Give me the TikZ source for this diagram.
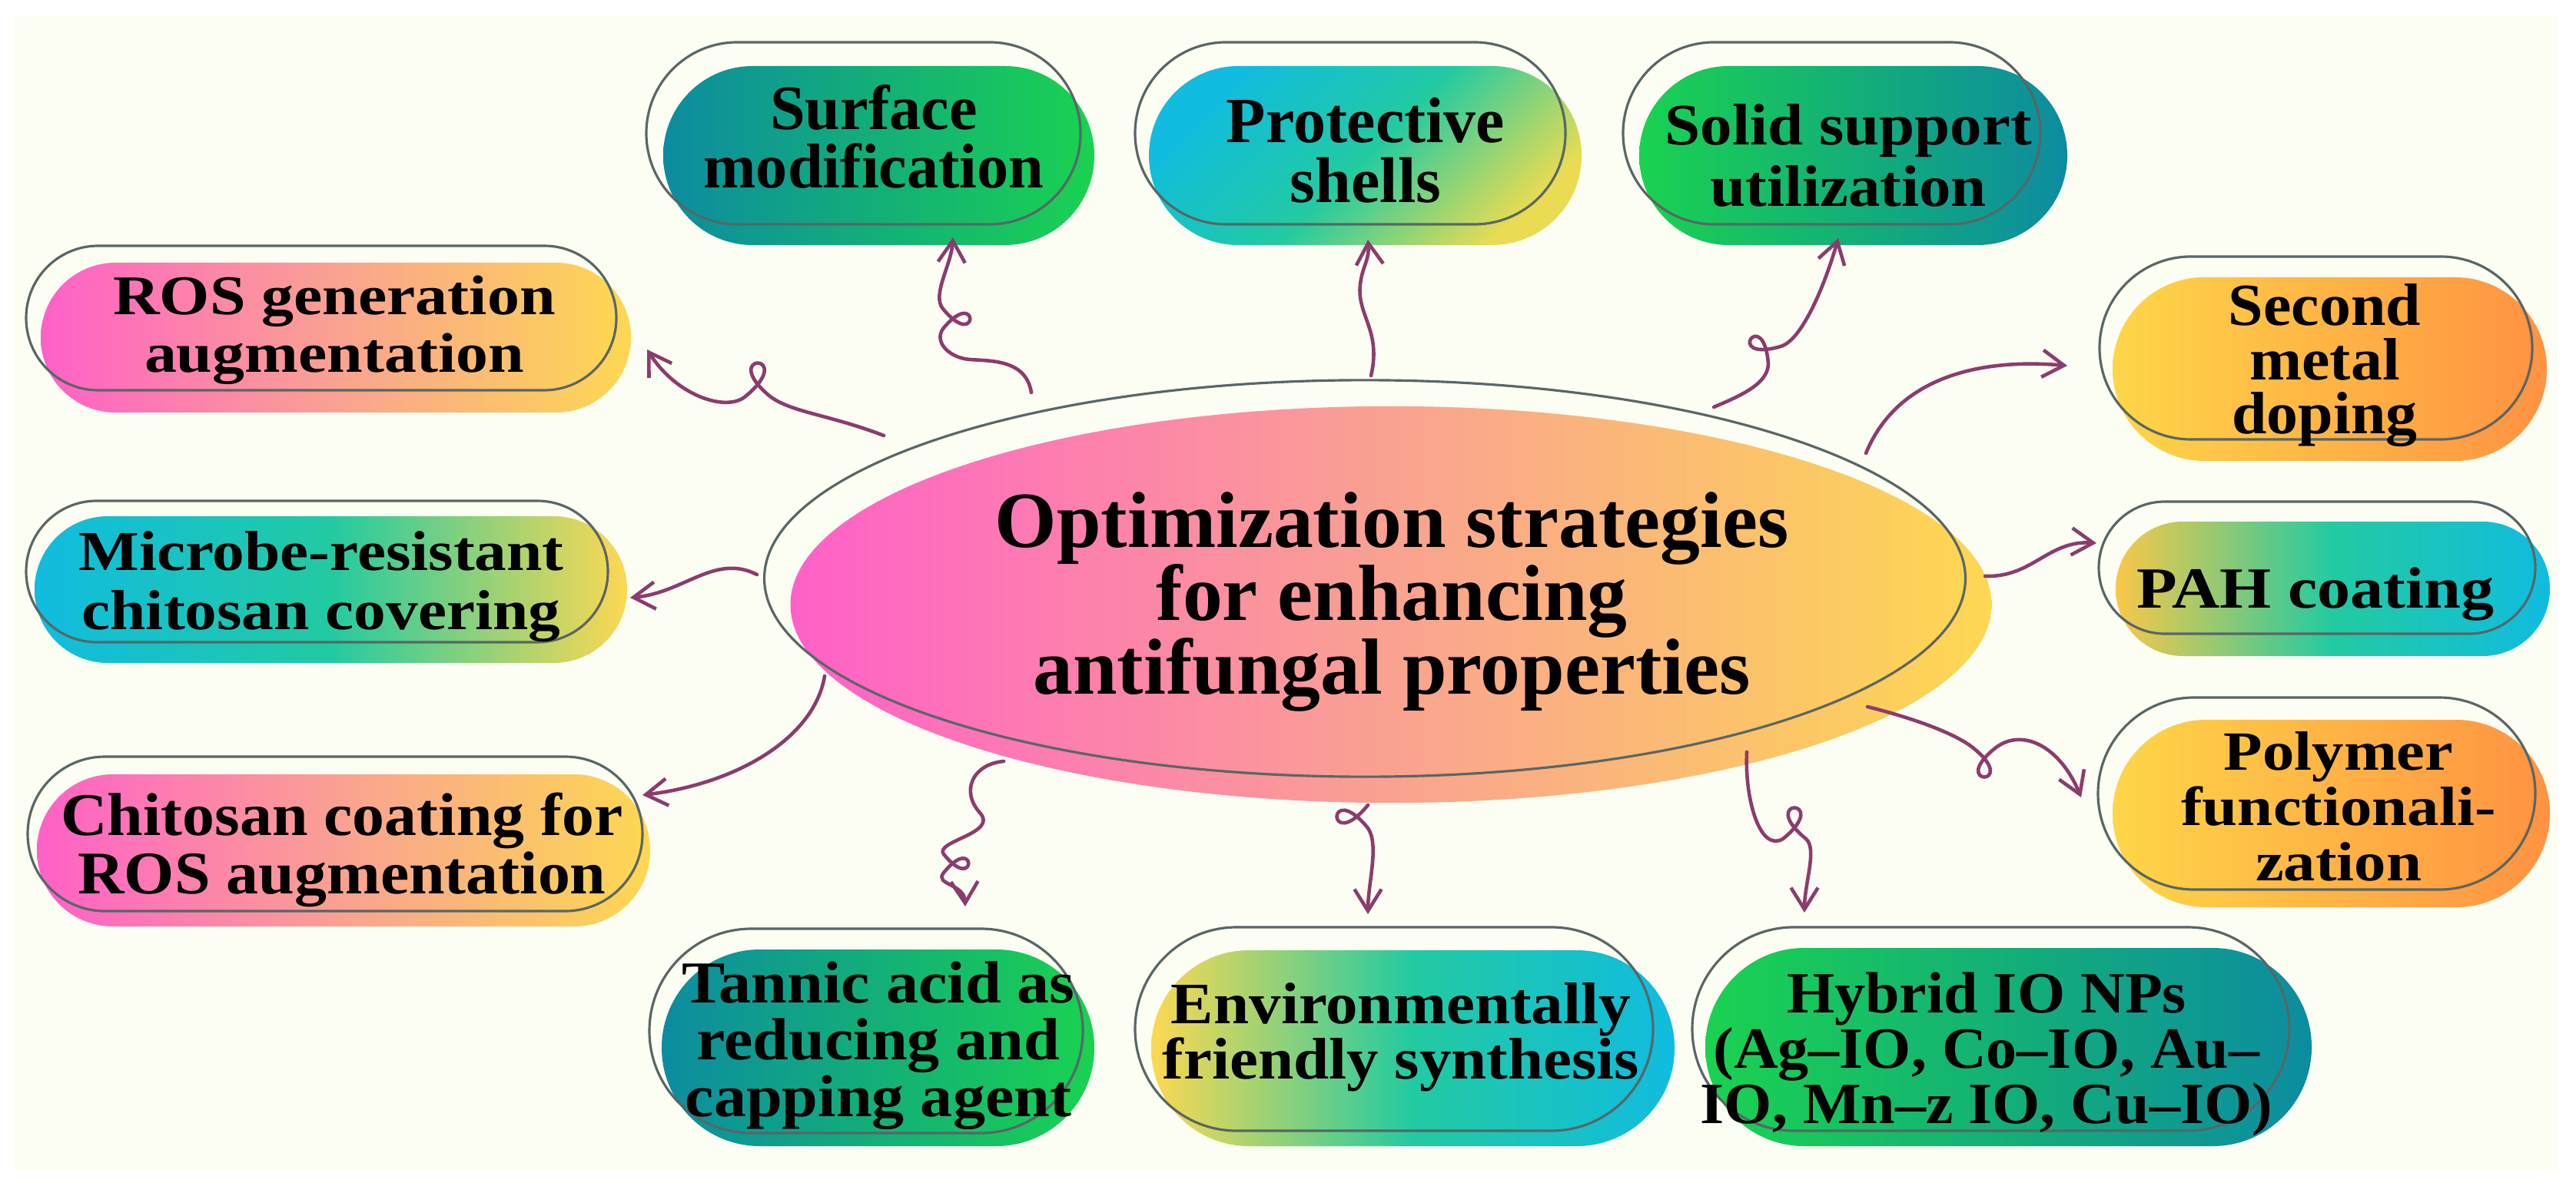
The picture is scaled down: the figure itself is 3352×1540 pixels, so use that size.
\documentclass[tikz,border=0pt]{standalone}
\usepackage{fontspec}
\setmainfont{Liberation Serif}
\usepackage{graphicx}
\usetikzlibrary{arrows.meta}

\definecolor{bgc}{RGB}{252,253,243}
\definecolor{olc}{RGB}{88,102,102}
\definecolor{arrc}{RGB}{140,60,108}
\definecolor{pinkc}{RGB}{255,96,200}
\definecolor{peachc}{RGB}{250,162,145}
\definecolor{yelc}{RGB}{253,216,82}
\definecolor{yel2c}{RGB}{254,214,72}
\definecolor{orangec}{RGB}{255,146,66}
\definecolor{tealc}{RGB}{12,140,160}
\definecolor{greenc}{RGB}{26,210,80}
\definecolor{cyanc}{RGB}{16,188,224}
\definecolor{tgc}{RGB}{34,202,162}
\definecolor{pahl}{RGB}{249,200,72}
\definecolor{protyel}{RGB}{234,220,82}

\newsavebox\lblbox
\newlength\lblw
\newcommand\lbl[4][1]{%
  \sbox\lblbox{\fontsize{10pt}{12pt}\selectfont\bfseries\vtop{\lineskiplimit=-\maxdimen\baselineskip=12pt\halign{\hfil##\hfil\cr#4\crcr}}}%
  \setlength\lblw{\wd\lblbox}%
  \pgfmathsetmacro\lblk{#2*0.284528/\lblw}%
  \pgfmathsetmacro\lblky{\lblk*#1}%
  \pgfmathsetmacro\lblbs{#3*0.284528/\lblky}%
  \sbox\lblbox{\fontsize{10pt}{12pt}\selectfont\bfseries\vtop{\lineskiplimit=-\maxdimen\baselineskip=\lblbs pt\halign{\hfil##\hfil\cr#4\crcr}}}%
  \scalebox{\lblk}[\lblky]{\usebox\lblbox}}

\newcommand\fst[5]{\pgfmathsetmacro\myrr{(#4-#2)*0.00499}\shade[#5, rounded corners=\myrr cm] (#1,#2) rectangle (#3,#4);}
\newcommand\ost[4]{\pgfmathsetmacro\myrr{(#4-#2)*0.00499}\draw[ol, rounded corners=\myrr cm] (#1,#2) rectangle (#3,#4);}

\begin{document}
\begin{tikzpicture}[x=0.01cm,y=-0.01cm,
  ol/.style={draw=olc, line width=0.9pt},
  arr/.style={draw=arrc, line width=1.3pt, line cap=round, -{Straight Barb[length=8pt,width=10pt]}},
  lb/.style={anchor=base, inner sep=0pt}]
\useasboundingbox (0,0) rectangle (3352,1540);
\fill[white] (0,0) rectangle (3352,1540);
\fill[bgc] (18,20) rectangle (3328,1524);

% central ellipse
\shade[left color=pinkc, right color=yelc, middle color=peachc] (1810,787) ellipse [x radius=7.81cm, y radius=2.58cm];
\draw[ol] (1776,753) ellipse [x radius=7.81cm, y radius=2.58cm];

% boxes
\fst{863}{86}{1424}{319}{left color=tealc, right color=greenc}
\ost{841}{55}{1406}{292}
\fst{1495}{86}{2058}{319}{left color=cyanc, right color=protyel, middle color=tgc, shading angle=45}
\ost{1477}{55}{2037}{292}
\fst{2133}{86}{2690}{319}{left color=greenc, right color=tealc}
\ost{2112}{55}{2655}{292}
\fst{53}{342}{821}{537}{left color=pinkc, right color=yelc, middle color=peachc}
\ost{34}{320}{802}{508}
\fst{45}{672}{816}{863}{left color=cyanc, right color=yelc, middle color=tgc}
\ost{34}{652}{791}{836}
\fst{48}{1008}{846}{1206}{left color=pinkc, right color=yelc, middle color=peachc}
\ost{36}{985}{836}{1186}
\fst{2749}{361}{3314}{600}{left color=yel2c, right color=orangec}
\ost{2732}{334}{3295}{572}
\fst{2753}{679}{3318}{854}{left color=pahl, right color=cyanc, middle color=tgc}
\ost{2731}{653}{3299}{825}
\fst{2749}{937}{3318}{1181}{left color=yel2c, right color=orangec}
\ost{2730}{908}{3299}{1158}
\fst{861}{1236}{1424}{1492}{left color=tealc, right color=greenc}
\ost{845}{1209}{1409}{1475}
\fst{1498}{1237}{2179}{1492}{left color=yelc, right color=cyanc, middle color=tgc}
\ost{1477}{1207}{2151}{1472}
\fst{2219}{1234}{3008}{1492}{left color=greenc, right color=tealc}
\ost{2202}{1207}{2979}{1472}

% texts
\node[lb] (tMain) at (1811,712) {\lbl{1032}{95.5}{Optimization strategies\cr for enhancing\cr antifungal properties}};
\node[lb] (tSurf) at (1137,169) {\lbl{443}{75}{Surface\cr modification}};
\node[lb] (tProt) at (1777,186) {\lbl{362}{77}{Protective\cr shells}};
\node[lb] (tSolid) at (2405,189) {\lbl[0.92]{477}{79}{Solid support\cr utilization}};
\node[lb] (tRos) at (435,410) {\lbl[0.87]{575}{74}{ROS generation\cr augmentation}};
\node[lb] (tMic) at (418,742) {\lbl[0.88]{631}{77}{Microbe-resistant\cr chitosan covering}};
\node[lb] (tChi) at (445,1087) {\lbl[0.94]{731}{76}{Chitosan coating for\cr ROS augmentation}};
\node[lb] (tSec) at (3025,424) {\lbl[0.95]{250}{70}{Second\cr metal\cr doping}};
\node[lb] (tPah) at (3013,791) {\lbl[0.88]{465}{70}{PAH coating}};
\node[lb] (tPoly) at (3043,1002) {\lbl[0.87]{409}{72}{Polymer\cr functionali-\cr zation}};
\node[lb] (tTan) at (1143,1305) {\lbl[0.92]{511}{74}{Tannic acid as\cr reducing and\cr capping agent}};
\node[lb] (tEnv) at (1823,1332) {\lbl[0.92]{620}{72}{Environmentally\cr friendly synthesis}};
\node[lb] (tHyb) at (2585,1318) {\lbl[0.95]{744}{72}{Hybrid IO NPs\cr (Ag–IO, Co–IO, Au–\cr IO, Mn–z IO, Cu–IO)}};

% connector end points
\coordinate (sA) at (1150,567); \coordinate (eA) at (842,455);
\coordinate (sB) at (1342,511); \coordinate (eB) at (1240,309);
\coordinate (sC) at (1784,489); \coordinate (eC) at (1780,312);
\coordinate (sD) at (2230,530); \coordinate (eD) at (2392,310);
\coordinate (sE) at (2428,590); \coordinate (eE) at (2690,476);
\coordinate (sF) at (2583,750); \coordinate (eF) at (2728,707);
\coordinate (sG) at (2430,920); \coordinate (eG) at (2708,1038);
\coordinate (sH) at (2273,979); \coordinate (eH) at (2348,1188);
\coordinate (sI) at (1780,1048); \coordinate (eI) at (1780,1190);
\coordinate (sJ) at (1306,991); \coordinate (eJ) at (1256,1180);
\coordinate (sK) at (1073,880); \coordinate (eK) at (836,1035);
\coordinate (sL) at (985,748); \coordinate (eL) at (820,778);

% connectors
\draw[arr] (sA) .. controls (1080,540) and (1030,537) .. (1002,516) .. controls (932,458) and (1040,458) .. (970,516) .. controls (945,537) and (880,515) .. (eA);
\draw[arr] (sB) .. controls (1335,468) and (1290,470) .. (1262,468) .. controls (1235,466) and (1215,445) .. (1227,428) .. controls (1274,371) and (1274,459) .. (1227,402) .. controls (1212,384) and (1238,345) .. (eB);
\draw[arr] (sC) .. controls (1798,430) and (1765,410) .. (1770,370) .. controls (1773,345) and (1782,340) .. (eC);
\draw[arr] (sD) .. controls (2265,515) and (2300,500) .. (2301,474) .. controls (2295,395) and (2241,473) .. (2317,451) .. controls (2345,443) and (2375,370) .. (eD);
\draw[arr] (sE) .. controls (2465,500) and (2560,465) .. (eE);
\draw[arr] (sF) .. controls (2645,752) and (2665,703) .. (eF);
\draw[arr] (sG) .. controls (2490,935) and (2545,955) .. (2568,974) .. controls (2630,1024) and (2534,1024) .. (2596,974) .. controls (2630,947) and (2680,970) .. (eG);
\draw[arr] (sH) .. controls (2270,1040) and (2290,1110) .. (2320,1092) .. controls (2386,1038) and (2284,1038) .. (2350,1092) .. controls (2365,1105) and (2348,1150) .. (eH);
\draw[arr] (sI) .. controls (1726,1114) and (1726,1012) .. (1780,1078) .. controls (1795,1100) and (1780,1150) .. (eI);
\draw[arr] (sJ) .. controls (1265,995) and (1250,1030) .. (1275,1058) .. controls (1300,1085) and (1215,1095) .. (1228,1112) .. controls (1271,1165) and (1271,1083) .. (1228,1136) .. controls (1215,1152) and (1255,1150) .. (eJ);
\draw[arr] (sK) .. controls (1060,960) and (960,1020) .. (eK);
\draw[arr] (sL) .. controls (930,720) and (890,772) .. (eL);
\end{tikzpicture}
\end{document}
